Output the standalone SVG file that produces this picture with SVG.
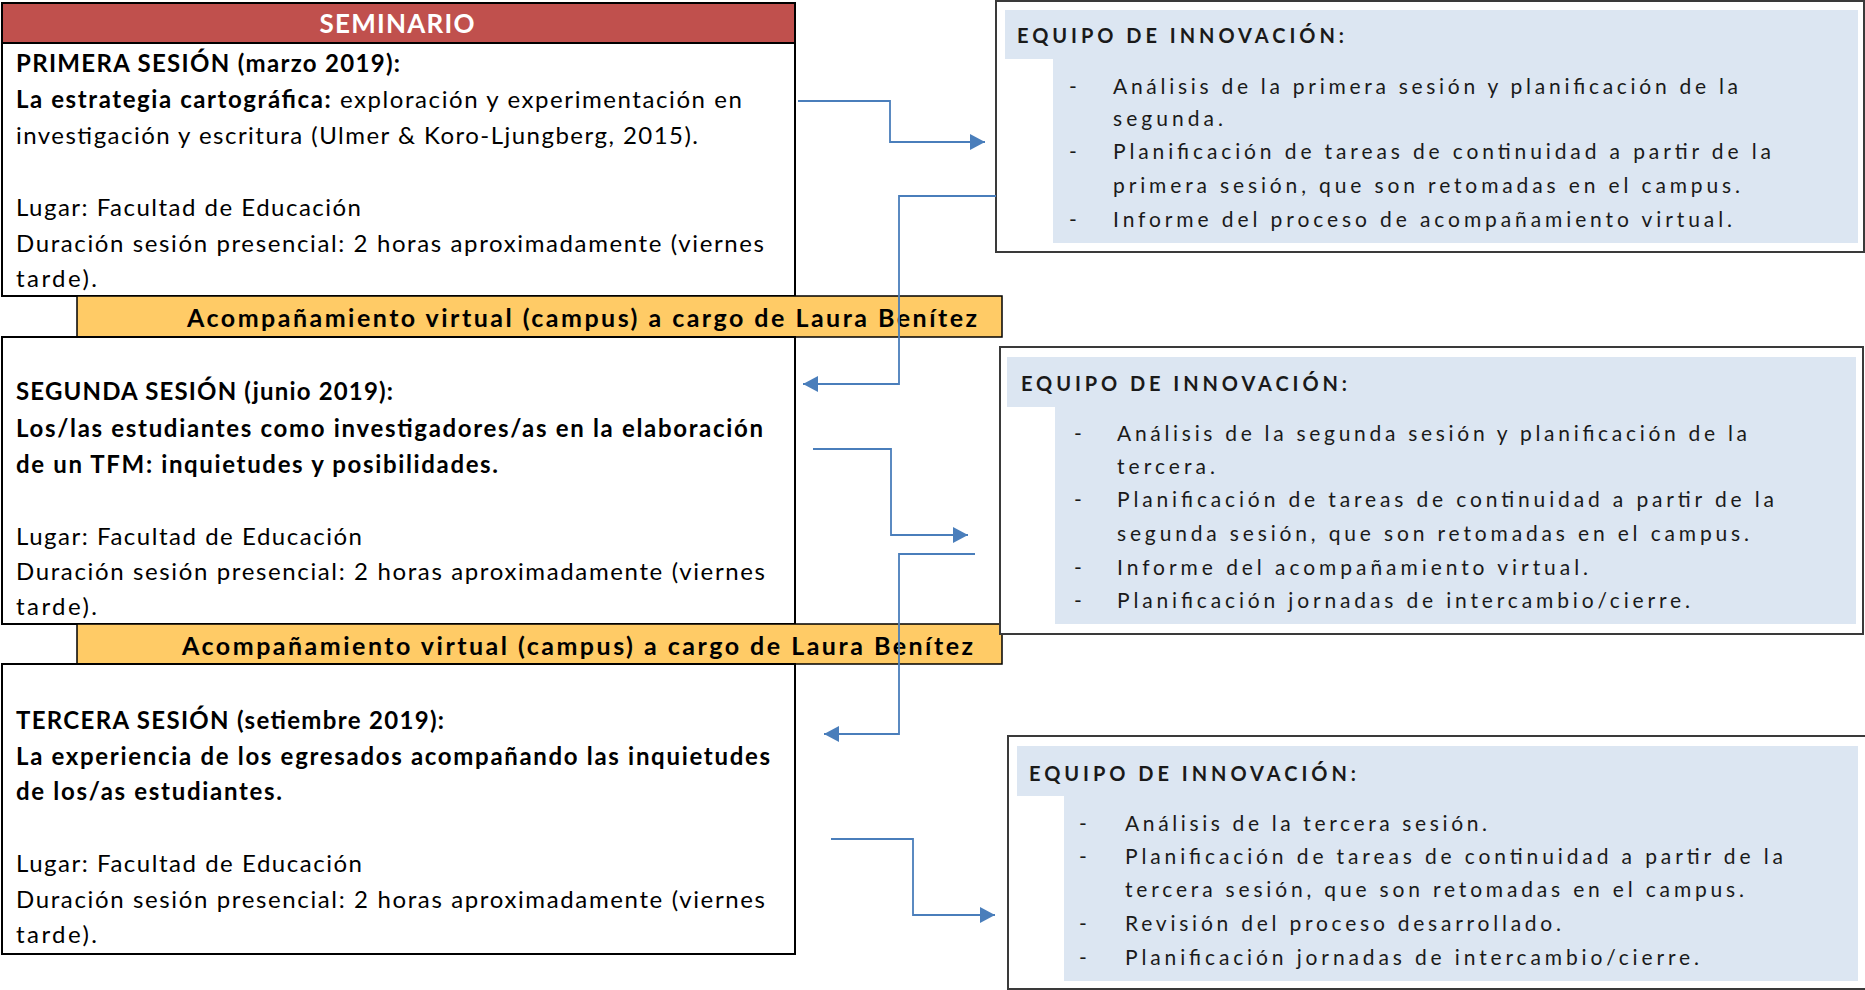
<svg xmlns="http://www.w3.org/2000/svg" width="1865" height="990" viewBox="0 0 1865 990">
<defs>
<style>
.t{font-family:Lato,"Liberation Sans",sans-serif;font-size:24px;fill:#000}
.b{font-weight:bold}
.y{font-family:Lato,"Liberation Sans",sans-serif;font-size:25px;font-weight:bold;fill:#000}
.h{font-family:Lato,"Liberation Sans",sans-serif;font-size:20px;font-weight:bold;fill:#1a1a1a}
.p{font-family:Lato,"Liberation Sans",sans-serif;font-size:21px;fill:#1a1a1a}
.box{fill:#fff;stroke:#000;stroke-width:2}
.bar{fill:#FFCB66;stroke:#000;stroke-width:1.5}
.panel{fill:#fff;stroke:#3a3a3a;stroke-width:2}
.fill{fill:#DCE6F2}
.con{fill:none;stroke:#4A7EBB;stroke-width:1.8}
</style>
<marker id="arr" markerUnits="userSpaceOnUse" markerWidth="16" markerHeight="18" refX="15" refY="8" orient="auto">
<path d="M0,0 L15,8 L0,16 Z" fill="#4A7EBB"/>
</marker>
</defs>
<rect width="1865" height="990" fill="#fff"/>

<g id="session1">
<rect class="box" x="2" y="3" width="793" height="293"/>
<rect x="2" y="3" width="793" height="40" fill="#C0504D" stroke="#000" stroke-width="2"/>
<text class="t b" x="397" y="33" text-anchor="middle" style="fill:#fff;font-size:26px" textLength="155">SEMINARIO</text>
<text class="t b" x="16" y="72" textLength="384">PRIMERA SESIÓN (marzo 2019):</text>
<text class="t" x="16" y="108" textLength="726"><tspan class="b">La estrategia cartográfica:</tspan> exploración y experimentación en</text>
<text class="t" x="16" y="144" textLength="682">investigación y escritura (Ulmer &amp; Koro-Ljungberg, 2015).</text>
<text class="t" x="16" y="216" textLength="345">Lugar: Facultad de Educación</text>
<text class="t" x="16" y="252" textLength="748">Duración sesión presencial: 2 horas aproximadamente (viernes</text>
<text class="t" x="16" y="287" textLength="81">tarde).</text>
</g>

<g id="campus1">
<rect class="bar" x="77" y="296" width="925" height="41"/>
<text class="y" x="187" y="327" textLength="790">Acompañamiento virtual (campus) a cargo de Laura Benítez</text>
</g>

<g id="session2">
<rect class="box" x="2" y="337" width="793" height="287"/>
<text class="t b" x="16" y="400" textLength="377">SEGUNDA SESIÓN (junio 2019):</text>
<text class="t b" x="16" y="437" textLength="747">Los/las estudiantes como investigadores/as en la elaboración</text>
<text class="t b" x="16" y="473" textLength="482">de un TFM: inquietudes y posibilidades.</text>
<text class="t" x="16" y="545" textLength="346">Lugar: Facultad de Educación</text>
<text class="t" x="16" y="580" textLength="749">Duración sesión presencial: 2 horas aproximadamente (viernes</text>
<text class="t" x="16" y="615" textLength="81">tarde).</text>
</g>

<g id="campus2">
<rect class="bar" x="77" y="624" width="925" height="40"/>
<text class="y" x="182" y="655" textLength="791">Acompañamiento virtual (campus) a cargo de Laura Benítez</text>
</g>

<g id="session3">
<rect class="box" x="2" y="664" width="793" height="290"/>
<text class="t b" x="16" y="729" textLength="428">TERCERA SESIÓN (setiembre 2019):</text>
<text class="t b" x="16" y="765" textLength="754">La experiencia de los egresados acompañando las inquietudes</text>
<text class="t b" x="16" y="800" textLength="266">de los/as estudiantes.</text>
<text class="t" x="16" y="872" textLength="346">Lugar: Facultad de Educación</text>
<text class="t" x="16" y="908" textLength="749">Duración sesión presencial: 2 horas aproximadamente (viernes</text>
<text class="t" x="16" y="943" textLength="81">tarde).</text>
</g>

<g id="panel1">
<rect class="panel" x="996" y="1" width="868" height="251"/>
<rect class="fill" x="1005" y="10" width="853" height="49"/>
<rect class="fill" x="1053" y="59" width="805" height="184"/>
<text class="h" x="1017" y="43" textLength="327">EQUIPO DE INNOVACIÓN:</text>
<text class="p" x="1069" y="94">-</text>
<text class="p" x="1113" y="94" textLength="625">Análisis de la primera sesión y planificación de la</text>
<text class="p" x="1113" y="126" textLength="110">segunda.</text>
<text class="p" x="1069" y="159">-</text>
<text class="p" x="1113" y="159" textLength="658">Planificación de tareas de continuidad a partir de la</text>
<text class="p" x="1113" y="193" textLength="627">primera sesión, que son retomadas en el campus.</text>
<text class="p" x="1069" y="227">-</text>
<text class="p" x="1113" y="227" textLength="619">Informe del proceso de acompañamiento virtual.</text>
</g>

<g id="panel2">
<rect class="panel" x="1000" y="347" width="863" height="287"/>
<rect class="fill" x="1007" y="357" width="849" height="50"/>
<rect class="fill" x="1055" y="407" width="801" height="217"/>
<text class="h" x="1021" y="391" textLength="326">EQUIPO DE INNOVACIÓN:</text>
<text class="p" x="1074" y="441">-</text>
<text class="p" x="1117" y="441" textLength="630">Análisis de la segunda sesión y planificación de la</text>
<text class="p" x="1117" y="474" textLength="98">tercera.</text>
<text class="p" x="1074" y="507">-</text>
<text class="p" x="1117" y="507" textLength="657">Planificación de tareas de continuidad a partir de la</text>
<text class="p" x="1117" y="541" textLength="632">segunda sesión, que son retomadas en el campus.</text>
<text class="p" x="1074" y="575">-</text>
<text class="p" x="1117" y="575" textLength="471">Informe del acompañamiento virtual.</text>
<text class="p" x="1074" y="608">-</text>
<text class="p" x="1117" y="608" textLength="573">Planificación jornadas de intercambio/cierre.</text>
</g>

<g id="panel3">
<rect class="panel" x="1008" y="736" width="858" height="253"/>
<rect class="fill" x="1017" y="746" width="841" height="50"/>
<rect class="fill" x="1064" y="796" width="794" height="185"/>
<text class="h" x="1029" y="781" textLength="327">EQUIPO DE INNOVACIÓN:</text>
<text class="p" x="1079" y="831">-</text>
<text class="p" x="1125" y="831" textLength="362">Análisis de la tercera sesión.</text>
<text class="p" x="1079" y="864">-</text>
<text class="p" x="1125" y="864" textLength="658">Planificación de tareas de continuidad a partir de la</text>
<text class="p" x="1125" y="897" textLength="619">tercera sesión, que son retomadas en el campus.</text>
<text class="p" x="1079" y="931">-</text>
<text class="p" x="1125" y="931" textLength="436">Revisión del proceso desarrollado.</text>
<text class="p" x="1079" y="965">-</text>
<text class="p" x="1125" y="965" textLength="574">Planificación jornadas de intercambio/cierre.</text>
</g>

<g id="connectors">
<path class="con" d="M798,101 H890 V142 H985" marker-end="url(#arr)"/>
<path class="con" d="M996,196 H899 V384 H803" marker-end="url(#arr)"/>
<path class="con" d="M813,449 H891 V535 H968" marker-end="url(#arr)"/>
<path class="con" d="M975,554 H899 V734 H824" marker-end="url(#arr)"/>
<path class="con" d="M831,839 H913 V915 H995" marker-end="url(#arr)"/>
</g>
</svg>
